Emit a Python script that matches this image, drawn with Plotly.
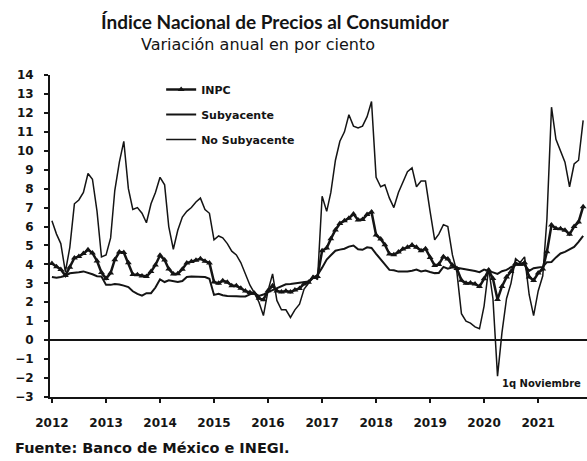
import pandas as pd
import plotly.graph_objects as go

months = pd.date_range("2012-01-01", periods=119, freq="MS")

inpc = [
    4.05, 3.87, 3.73, 3.41, 3.85, 4.34, 4.42, 4.57, 4.77, 4.60, 4.18, 3.57,
    3.25, 3.55, 4.25, 4.65, 4.63, 4.09, 3.47, 3.46, 3.39, 3.36, 3.62, 3.97,
    4.48, 4.23, 3.76, 3.50, 3.51, 3.75, 4.07, 4.15, 4.22, 4.30, 4.17, 4.08,
    3.07, 3.00, 3.14, 3.06, 2.88, 2.87, 2.74, 2.59, 2.52, 2.48, 2.21, 2.13,
    2.61, 2.87, 2.60, 2.54, 2.60, 2.54, 2.65, 2.73, 2.97, 3.06, 3.31, 3.36,
    4.72, 4.86, 5.35, 5.82, 6.16, 6.31, 6.44, 6.66, 6.35, 6.37, 6.63, 6.77,
    5.55, 5.34, 5.04, 4.55, 4.51, 4.65, 4.81, 4.90, 5.02, 4.90, 4.72, 4.83,
    4.37, 3.94, 4.00, 4.41, 4.28, 3.95, 3.78, 3.16, 3.00, 3.02, 2.97, 2.83,
    3.24, 3.70, 3.25, 2.15, 2.84, 3.33, 3.62, 4.05, 4.01, 4.09, 3.33, 3.15,
    3.54, 3.76, 4.67, 6.08, 5.89, 5.88, 5.81, 5.59, 6.00, 6.24, 7.05,
]

subyacente = [
    3.34, 3.30, 3.34, 3.40, 3.53, 3.58, 3.59, 3.63, 3.57, 3.48, 3.38, 3.36,
    2.92, 2.92, 2.96, 2.94, 2.88, 2.80, 2.58, 2.44, 2.35, 2.48, 2.48, 2.78,
    3.21, 3.07, 3.16, 3.12, 3.07, 3.12, 3.34, 3.36, 3.34, 3.32, 3.33, 3.24,
    2.39, 2.45, 2.37, 2.33, 2.31, 2.32, 2.31, 2.31, 2.42, 2.47, 2.34, 2.41,
    2.54, 2.65, 2.76, 2.88, 2.95, 2.97, 3.00, 3.02, 3.09, 3.10, 3.29, 3.44,
    3.83, 4.26, 4.48, 4.72, 4.78, 4.83, 4.94, 5.00, 4.80, 4.77, 4.90, 4.87,
    4.56, 4.27, 4.02, 3.71, 3.69, 3.62, 3.63, 3.63, 3.67, 3.73, 3.63, 3.68,
    3.60, 3.54, 3.55, 3.87, 3.77, 3.85, 3.82, 3.78, 3.75, 3.68, 3.65, 3.59,
    3.73, 3.66, 3.60, 3.50, 3.64, 3.71, 3.85, 3.97, 3.99, 3.98, 3.66, 3.80,
    3.84, 3.87, 4.12, 4.13, 4.37, 4.58, 4.66, 4.78, 4.92, 5.19, 5.51,
]

no_subyacente = [
    6.3, 5.6, 5.1, 3.6, 4.9, 7.2, 7.4, 7.8, 8.8, 8.5, 6.8, 4.4,
    4.5, 5.4, 7.9, 9.4, 10.5, 8.0, 6.9, 7.0, 6.7, 6.2, 7.2, 7.8,
    8.6, 8.2, 6.0, 4.8, 5.8, 6.5, 6.8, 7.0, 7.3, 7.5, 6.9, 6.7,
    5.3, 5.5, 5.4, 5.1, 4.7, 4.5, 4.1, 3.5, 2.9, 2.5, 2.0, 1.3,
    2.6, 3.5, 2.1, 1.6, 1.6, 1.2, 1.6, 1.9, 2.7, 3.0, 3.4, 3.2,
    7.6, 6.8, 7.8, 9.5, 10.5, 11.0, 11.9, 11.3, 11.2, 11.3, 11.8, 12.6,
    8.6, 8.1, 8.2, 7.5, 7.0, 7.8, 8.3, 8.9, 9.1, 8.1, 8.4, 8.4,
    6.8, 5.3, 5.6, 6.1, 6.0, 4.5, 3.6, 1.4, 1.0, 0.9, 0.7, 0.6,
    1.8, 3.8, 2.2, -1.9, 0.4, 2.2, 3.0, 4.3, 4.1, 4.4, 2.4, 1.3,
    2.6, 3.4, 6.4, 12.3, 10.6, 10.0, 9.4, 8.1, 9.3, 9.5, 11.6,
]

year_ticks = pd.date_range("2012-01-01", periods=10, freq="YS")
year_labels = [str(y) for y in range(2012, 2022)]
y_ticks = list(range(-3, 15))

title_text = "Índice Nacional de Precios al Consumidor"
subtitle_text = "Variación anual en por ciento"
source_text = "Fuente: Banco de México e INEGI."
note_text = "1q Noviembre"

INK = "#141414"

fig = go.Figure()
fig.add_trace(go.Scatter(
    x=months, y=inpc, name="INPC", mode="lines+markers", legendgroup="a",
    line=dict(color=INK, width=2.5),
    marker=dict(symbol="triangle-up", size=6, color=INK),
))
fig.add_trace(go.Scatter(
    x=months, y=subyacente, name="Subyacente", mode="lines", legendgroup="b",
    line=dict(color=INK, width=2),
))
fig.add_trace(go.Scatter(
    x=months, y=no_subyacente, name="No Subyacente", mode="lines", legendgroup="c",
    line=dict(color=INK, width=1.5),
))

fig.update_layout(
    width=587, height=461,
    margin=dict(l=50, r=0, t=75, b=64, autoexpand=False),
    paper_bgcolor="white", plot_bgcolor="white",
    font=dict(family="DejaVu Sans", color=INK),
    showlegend=True,
    legend=dict(
        x=0.207, y=1.0, xanchor="left", yanchor="top",
        bgcolor="rgba(0,0,0,0)", tracegroupgap=6,
        font=dict(family="DejaVu Sans", size=11, weight="bold", color=INK),
    ),
    xaxis=dict(
        type="date",
        range=["2011-12-19", "2021-11-27"],
        tickvals=year_ticks, ticktext=year_labels,
        showgrid=False, zeroline=False, automargin=False,
        showline=True, linecolor=INK, linewidth=2,
        ticks="outside", ticklen=4, tickwidth=2, tickcolor=INK,
        ticklabelstandoff=10,
        tickfont=dict(family="DejaVu Sans", size=12, weight="bold", color=INK),
    ),
    yaxis=dict(
        range=[-3, 14],
        tickvals=y_ticks, automargin=False,
        showgrid=False,
        zeroline=True, zerolinecolor=INK, zerolinewidth=2,
        showline=True, linecolor=INK, linewidth=2,
        ticks="outside", ticklen=4, tickwidth=2, tickcolor=INK,
        ticklabelstandoff=8,
        tickfont=dict(family="DejaVu Sans", size=12, weight="bold", color=INK),
    ),
    annotations=[
        dict(text=title_text, xref="paper", yref="paper", x=(275 - 50) / 537, y=1 + (75 - 22) / 322,
             xanchor="center", yanchor="middle", showarrow=False,
             font=dict(family="Lato", size=19, weight="bold", color=INK)),
        dict(text=subtitle_text, xref="paper", yref="paper", x=(258 - 50) / 537, y=1 + (75 - 44) / 322,
             xanchor="center", yanchor="middle", showarrow=False,
             font=dict(family="DejaVu Sans", size=16, color=INK)),
        dict(text=source_text, xref="paper", yref="paper", x=-37 / 537, y=-(448 - 397) / 322,
             xanchor="left", yanchor="middle", showarrow=False,
             font=dict(family="DejaVu Sans", size=14.5, weight="bold", color=INK)),
        dict(text=note_text, xref="paper", yref="y", x=(500 - 50) / 537, y=-2.3,
             xanchor="left", yanchor="middle", showarrow=False,
             font=dict(family="DejaVu Sans", size=10, weight="bold", color=INK)),
    ],
)

fig.write_html("out.html", config={"displayModeBar": False},
               post_script="document.body.style.margin='0px';")
